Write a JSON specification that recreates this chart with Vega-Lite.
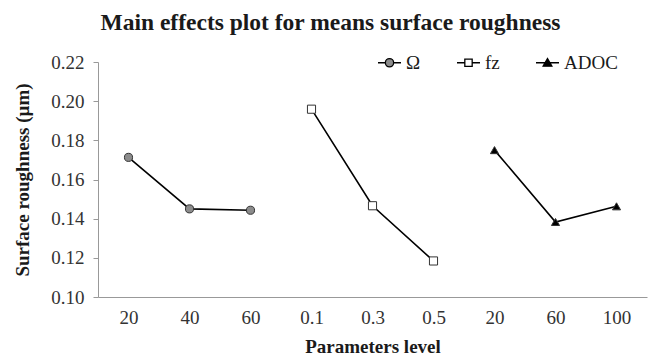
{
  "$schema": "https://vega.github.io/schema/vega-lite/v6.json",
  "width": 549,
  "height": 235,
  "autosize": {"type": "none"},
  "padding": {"left": 98, "top": 62, "right": 1, "bottom": 60},
  "background": "white",
  "config": {
    "font": "Liberation Serif",
    "view": {"stroke": null},
    "axis": {"grid": false, "domainColor": "#999999", "tickColor": "#999999", "labelColor": "#333333", "titleColor": "#1a1a1a", "labelFont": "Liberation Serif", "titleFont": "Liberation Serif"}
  },
  "title": {
    "text": "Main effects plot for means surface roughness",
    "font": "Liberation Serif",
    "fontSize": 23.5,
    "fontWeight": "bold",
    "color": "#1a1a1a",
    "anchor": "middle",
    "frame": "group",
    "dx": -42,
    "offset": 16
  },
  "data": {
    "values": [
      {"factor": "Ω", "key": "Ω|20", "value": 0.1713},
      {"factor": "Ω", "key": "Ω|40", "value": 0.1450},
      {"factor": "Ω", "key": "Ω|60", "value": 0.1443},
      {"factor": "fz", "key": "fz|0.1", "value": 0.1959},
      {"factor": "fz", "key": "fz|0.3", "value": 0.1466},
      {"factor": "fz", "key": "fz|0.5", "value": 0.1184},
      {"factor": "ADOC", "key": "ADOC|20", "value": 0.1750},
      {"factor": "ADOC", "key": "ADOC|60", "value": 0.1383},
      {"factor": "ADOC", "key": "ADOC|100", "value": 0.1463}
    ]
  },
  "encoding": {
    "x": {
      "field": "key",
      "type": "nominal",
      "sort": null,
      "scale": {"type": "point", "padding": 0.5},
      "axis": {
        "title": "Parameters level",
        "labelExpr": "split(datum.label, '|')[1]",
        "labelAngle": 0,
        "ticks": false,
        "labelPadding": 11,
        "labelFontSize": 19,
        "titleFontSize": 19,
        "titleFontWeight": "bold",
        "titlePadding": 10
      }
    },
    "y": {
      "field": "value",
      "type": "quantitative",
      "scale": {"domain": [0.1, 0.22], "nice": false, "zero": false},
      "axis": {
        "title": "Surface roughness (µm)",
        "values": [0.1, 0.12, 0.14, 0.16, 0.18, 0.2, 0.22],
        "format": ".2f",
        "tickSize": 5,
        "labelPadding": 9,
        "labelFontSize": 19,
        "titleFontSize": 19,
        "titleFontWeight": "bold",
        "titlePadding": 18
      }
    }
  },
  "layer": [
    {
      "mark": {"type": "line", "color": "#000000", "strokeWidth": 1.6},
      "encoding": {"detail": {"field": "factor", "type": "nominal"}}
    },
    {
      "mark": {"type": "point", "filled": true, "stroke": "#333333", "strokeWidth": 1, "opacity": 1},
      "encoding": {
        "shape": {"field": "factor", "type": "nominal", "scale": {"domain": ["Ω", "fz", "ADOC"], "range": ["circle", "square", "triangle-up"]}, "legend": null},
        "fill": {"field": "factor", "type": "nominal", "scale": {"domain": ["Ω", "fz", "ADOC"], "range": ["#8c8c8c", "#ffffff", "#000000"]}, "legend": null},
        "size": {"value": 66}
      }
    },
    {
      "transform": [{"filter": "datum.value < 0"}],
      "mark": {"type": "point", "filled": false, "strokeWidth": 1.3, "opacity": 1},
      "encoding": {
        "shape": {
          "field": "factor",
          "type": "nominal",
          "scale": {"domain": ["Ω", "fz", "ADOC"], "range": [
            "M-1,0H-0.36M0.36,0H1M0.36,0A0.36,0.36 0 1,1 -0.36,0A0.36,0.36 0 1,1 0.36,0Z",
            "M-1,0H-0.32M0.32,0H1M-0.32,-0.32H0.32V0.32H-0.32Z",
            "M-1,0H1M0,-0.36L0.38,0.3H-0.38Z"
          ]},
          "legend": {
            "title": null,
            "orient": "none",
            "direction": "horizontal",
            "legendX": 279,
            "legendY": -12,
            "gridAlign": "each",
            "columnPadding": 33,
            "symbolSize": 529,
            "symbolStrokeWidth": 1.3,
            "labelFont": "Liberation Serif",
            "labelFontSize": 19,
            "labelColor": "#1a1a1a",
            "labelOffset": 4
          }
        },
        "fill": {"field": "factor", "type": "nominal", "scale": {"domain": ["Ω", "fz", "ADOC"], "range": ["#8c8c8c", "#ffffff", "#000000"]}},
        "stroke": {"field": "factor", "type": "nominal", "scale": {"domain": ["Ω", "fz", "ADOC"], "range": ["#000000", "#000000", "#000000"]}}
      }
    }
  ],
  "resolve": {"scale": {"shape": "independent", "fill": "independent", "stroke": "independent"}}
}
